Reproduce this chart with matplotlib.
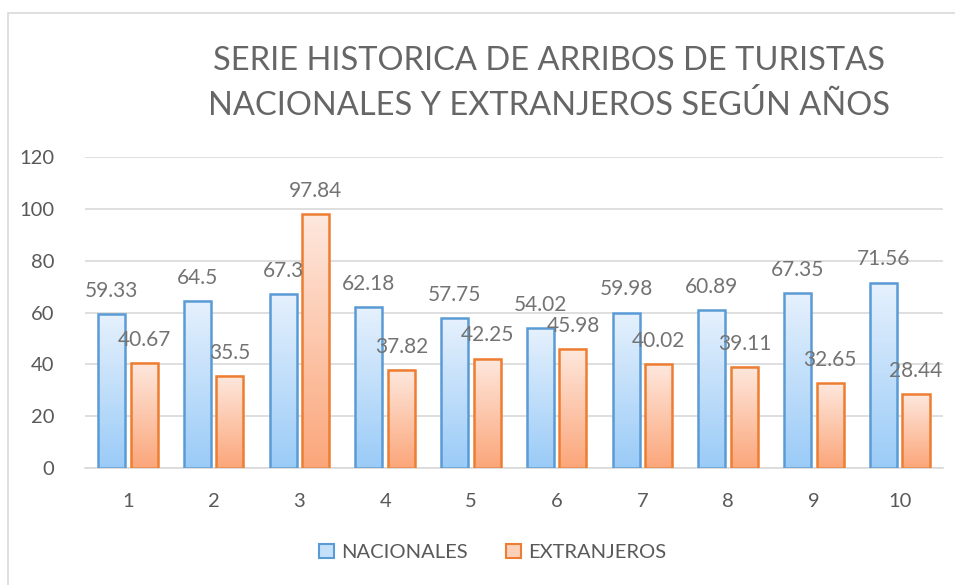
import numpy as np
import matplotlib.pyplot as plt
from matplotlib.colors import to_rgb
from matplotlib.patches import Rectangle

years = [1, 2, 3, 4, 5, 6, 7, 8, 9, 10]
nacionales = [59.33, 64.5, 67.3, 62.18, 57.75, 54.02, 59.98, 60.89, 67.35, 71.56]
extranjeros = [40.67, 35.5, 97.84, 37.82, 42.25, 45.98, 40.02, 39.11, 32.65, 28.44]
nac_labels = ["59.33", "64.5", "67.3", "62.18", "57.75", "54.02", "59.98", "60.89", "67.35", "71.56"]
ext_labels = ["40.67", "35.5", "97.84", "37.82", "42.25", "45.98", "40.02", "39.11", "32.65", "28.44"]

plt.rcParams['font.family'] = ['Lato', 'DejaVu Sans']
txt = '#595959'


def gradient(c_top, c_bot):
    t = np.linspace(0, 1, 256)[:, None]
    a, b = np.array(to_rgb(c_top)), np.array(to_rgb(c_bot))
    return (a * (1 - t) + b * t)[:, None, :]


grad_nac = gradient('#E6F1FD', '#9ACBF7')
grad_ext = gradient('#FEE8DE', '#FBA67A')

fig = plt.figure(figsize=(9.55, 5.85), dpi=100)
fig.patches.append(Rectangle((8 / 955, -0.1), 1.2, 1 - 13 / 585 + 0.1, transform=fig.transFigure,
                             fill=False, edgecolor='#D9D9D9', lw=1.2))
ax = fig.add_axes([0.089, 0.2, 0.898, 0.5316])

x = np.array(years, dtype=float)
w = 0.315
off = 0.19
for xs, vals, labs, grad, edge in [(x - off, nacionales, nac_labels, grad_nac, '#5B9BD5'),
                                    (x + off, extranjeros, ext_labels, grad_ext, '#ED7D31')]:
    for xi, v, lab in zip(xs, vals, labs):
        ax.imshow(grad, extent=(xi - w / 2, xi + w / 2, 0, v), aspect='auto', zorder=2)
        ax.bar(xi, v, width=w, fill=False, edgecolor=edge, linewidth=1.8, zorder=3)
        ax.text(xi, v + 8.9, lab, ha='center', va='center', fontsize=15, color='#737373', zorder=4)

ax.set_xlim(0.5, 10.5)
ax.set_ylim(0, 120)
ax.set_yticks(range(0, 121, 20))
ax.set_xticks(x)
ax.set_xticklabels([str(y) for y in years])
ax.grid(axis='y', color='#D9D9D9', lw=1.2, zorder=0)
ax.set_axisbelow(True)
for s in ['top', 'right', 'left']:
    ax.spines[s].set_visible(False)
ax.spines['bottom'].set_color('#D9D9D9')
ax.spines['bottom'].set_linewidth(1.2)
ax.tick_params(length=0, labelsize=14.5, colors=txt)
ax.tick_params(axis='x', pad=18)
ax.tick_params(axis='y', pad=22)

title_color = '#666666'
fig.text(0.575, 0.896, "SERIE HISTORICA DE ARRIBOS DE TURISTAS",
         ha='center', va='center', fontsize=23.5, color=title_color)
fig.text(0.575, 0.819, "NACIONALES Y EXTRANJEROS SEGÚN AÑOS",
         ha='center', va='center', fontsize=23.5, color=title_color)

h1 = Rectangle((0, 0), 1, 1, facecolor='#C5E0FA', edgecolor='#5B9BD5', lw=1.5)
h2 = Rectangle((0, 0), 1, 1, facecolor='#FDD0BA', edgecolor='#ED7D31', lw=1.5)
fig.legend([h1, h2], ['NACIONALES', 'EXTRANJEROS'], loc='center', bbox_to_anchor=(0.516, 0.056),
           ncol=2, frameon=False, fontsize=14.5, labelcolor=txt, handlelength=0.75, handleheight=0.75,
           handletextpad=0.35, columnspacing=1.9)

fig.savefig('out.png', dpi=100)
